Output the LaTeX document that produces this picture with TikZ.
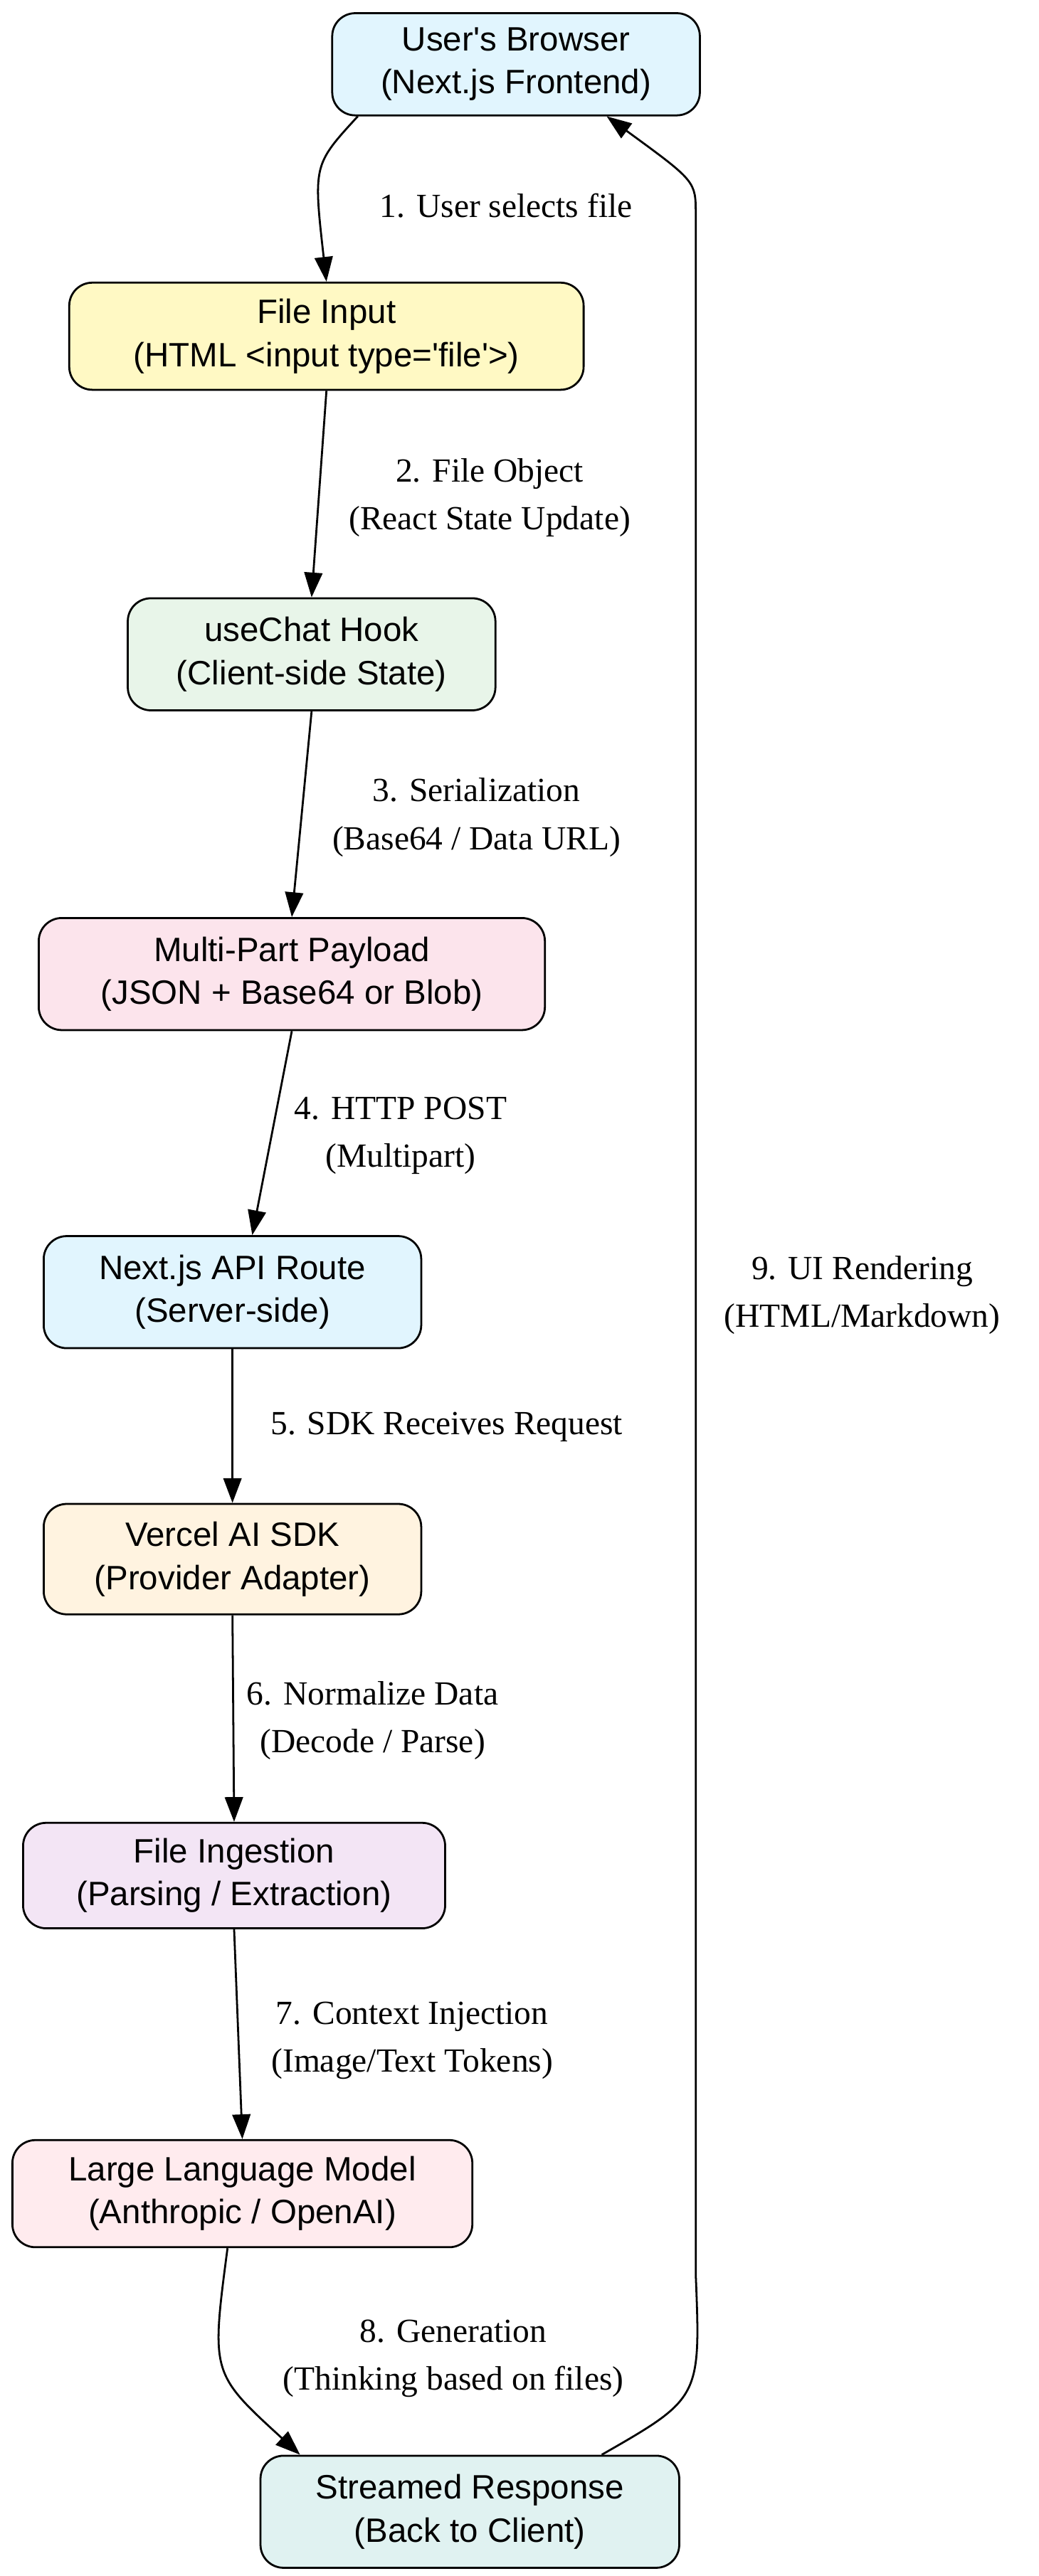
\documentclass[tikz,border=0pt]{standalone}
\usepackage{fontspec}
\setmainfont{Liberation Serif}
\newfontfamily\boxfont{Liberation Sans}
\usetikzlibrary{arrows.meta}
\tikzset{
  box/.style={draw, line width=1.2pt, rounded corners=14pt, align=center,
    font=\boxfont\fontsize{20.5pt}{26pt}\selectfont, inner sep=0pt},
  arr/.style={line width=1.2pt, -{Triangle[length=15pt,width=11pt]}},
  lbl/.style={align=center, font=\fontsize{20.5pt}{29pt}\selectfont}
}
\definecolor{cblue}{HTML}{E1F5FE}
\definecolor{cyellow}{HTML}{FFF9C4}
\definecolor{cgreen}{HTML}{E8F5E9}
\definecolor{cpink}{HTML}{FCE4EC}
\definecolor{corange}{HTML}{FFF3E0}
\definecolor{cpurple}{HTML}{F3E5F5}
\definecolor{cred}{HTML}{FFEBEE}
\definecolor{cteal}{HTML}{E0F2F1}
\begin{document}
\begin{tikzpicture}[x=1pt,y=-1pt]
\useasboundingbox (0,0) rectangle (630,1563);
% nodes
\node[box, fill=cblue, minimum width=223pt, minimum height=62pt] (browser) at (313,39) {User's Browser\\(Next.js Frontend)};
\node[box, fill=cyellow, minimum width=312pt, minimum height=65pt] (input) at (198,204) {File Input\\(HTML <input type='file'>)};
\node[box, fill=cgreen, minimum width=223pt, minimum height=68pt] (hook) at (189,397) {useChat Hook\\(Client-side State)};
\node[box, fill=cpink, minimum width=307pt, minimum height=68pt] (payload) at (177,591) {Multi-Part Payload\\(JSON + Base64 or Blob)};
\node[box, fill=cblue, minimum width=229pt, minimum height=68pt] (api) at (141,784) {Next.js API Route\\(Server-side)};
\node[box, fill=corange, minimum width=229pt, minimum height=67pt] (sdk) at (141,946) {Vercel AI SDK\\(Provider Adapter)};
\node[box, fill=cpurple, minimum width=256pt, minimum height=64pt] (ingest) at (142,1138) {File Ingestion\\(Parsing / Extraction)};
\node[box, fill=cred, minimum width=279pt, minimum height=65pt] (llm) at (147,1331) {Large Language Model\\(Anthropic / OpenAI)};
\node[box, fill=cteal, minimum width=254pt, minimum height=68pt] (stream) at (285,1524) {Streamed Response\\(Back to Client)};
% labels
\node[lbl] (l1) at (307,125) {1. User selects file};
\node[lbl] (l2) at (297,302) {2. File Object\\(React State Update)};
\node[lbl] (l3) at (289,496) {3. Serialization\\(Base64 / Data URL)};
\node[lbl] (l4) at (243,689) {4. HTTP POST\\(Multipart)};
\node[lbl] (l5) at (271,866) {5. SDK Receives Request};
\node[lbl] (l6) at (226,1044) {6. Normalize Data\\(Decode / Parse)};
\node[lbl] (l7) at (250,1238) {7. Context Injection\\(Image/Text Tokens)};
\node[lbl] (l8) at (275,1431) {8. Generation\\(Thinking based on files)};
\node[lbl] (l9) at (523,786) {9. UI Rendering\\(HTML/Markdown)};
% edges
\draw[arr] ([xshift=-96pt]browser.south) .. controls (190,100) .. (input.north);
\draw[arr] (input.south) -- (hook.north);
\draw[arr] (hook.south) -- (payload.north);
\draw[arr] (payload.south) -- ([xshift=12pt]api.north);
\draw[arr] (api.south) -- (sdk.north);
\draw[arr] (sdk.south) -- (ingest.north);
\draw[arr] (ingest.south) -- (llm.north);
\draw[arr] ([xshift=-9pt]llm.south) .. controls (128,1440) .. ([xshift=-103pt]stream.north);
\coordinate (up1) at (422,1380);
\coordinate (up2) at (422,130);
\draw[arr] ([xshift=80pt]stream.north) .. controls (425,1455) .. (up1) -- (up2) .. controls (422,110) .. ([xshift=55pt]browser.south);
\end{tikzpicture}
\end{document}
